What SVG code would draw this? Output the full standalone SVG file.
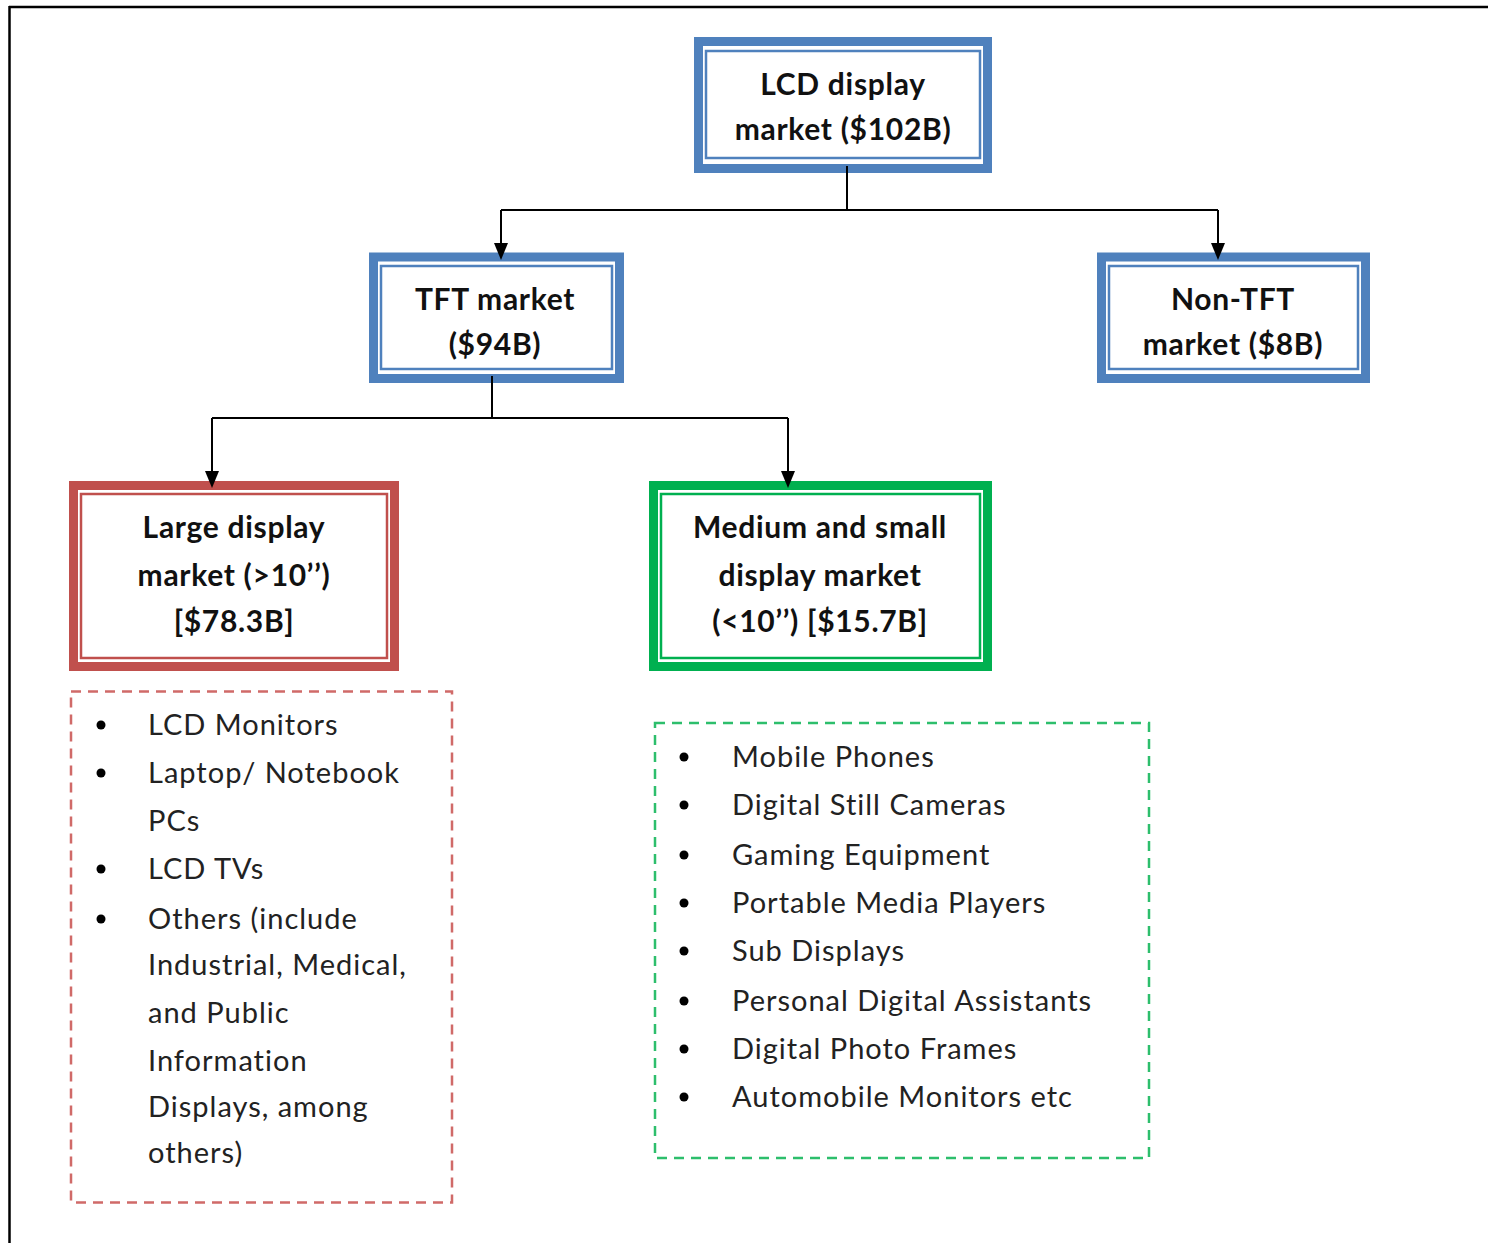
<svg xmlns="http://www.w3.org/2000/svg" width="1488" height="1243" viewBox="0 0 1488 1243">
<defs>
<style>
.title{font-family:Lato,"Open Sans","Liberation Sans",sans-serif;font-weight:700;font-size:30px;letter-spacing:0.7px;fill:#111;text-anchor:middle}
.item{font-family:Lato,"Open Sans","Liberation Sans",sans-serif;font-size:29px;letter-spacing:1px;fill:#222}
.blue{fill:#fff;stroke:#4F81BD;stroke-width:9}
.blueIn{fill:none;stroke:#4F81BD;stroke-width:2.5}
.red{fill:#fff;stroke:#C0504D;stroke-width:9}
.redIn{fill:none;stroke:#C0504D;stroke-width:2.5}
.green{fill:#fff;stroke:#00B050;stroke-width:9}
.greenIn{fill:none;stroke:#00B050;stroke-width:2.5}
.conn{fill:none;stroke:#000;stroke-width:2}
.head{fill:#000}
.bullet{fill:#000}
</style>
</defs>
<rect width="1488" height="1243" fill="#fff"/>
<g id="frame">
<line x1="9" y1="7" x2="1488" y2="7" stroke="#000" stroke-width="2.5"/>
<line x1="9.5" y1="6" x2="9.5" y2="1243" stroke="#000" stroke-width="2.5"/>
</g>
<g id="lcd">
<rect class="blue" x="698.5" y="41.5" width="289" height="127"/>
<rect class="blueIn" x="706" y="51" width="274" height="107"/>
<text class="title" x="843" y="95">LCD display</text>
<text class="title" x="843" y="140">market ($102B)</text>
</g>
<g id="tft">
<rect class="blue" x="373.5" y="257" width="246" height="121.5"/>
<rect class="blueIn" x="381" y="266" width="231" height="103"/>
<text class="title" x="495" y="310">TFT market</text>
<text class="title" x="495" y="355">($94B)</text>
</g>
<g id="nontft">
<rect class="blue" x="1101.5" y="257" width="264" height="121.5"/>
<rect class="blueIn" x="1109" y="266" width="249" height="103"/>
<text class="title" x="1233" y="310">Non-TFT</text>
<text class="title" x="1233" y="355">market ($8B)</text>
</g>
<g id="large">
<rect class="red" x="73.5" y="485.5" width="321" height="181"/>
<rect class="redIn" x="81" y="494" width="306" height="164"/>
<text class="title" x="234" y="538">Large display</text>
<text class="title" x="234" y="586">market (&gt;10’’)</text>
<text class="title" x="234" y="632">[$78.3B]</text>
</g>
<g id="medium">
<rect class="green" x="653.5" y="485.5" width="334" height="181"/>
<rect class="greenIn" x="661" y="494" width="319" height="164"/>
<text class="title" x="820" y="538">Medium and small</text>
<text class="title" x="820" y="586">display market</text>
<text class="title" x="820" y="632">(&lt;10’’) [$15.7B]</text>
</g>
<g id="connectors">
<path class="conn" d="M847,166 V210"/>
<path class="conn" d="M501,210 H1218"/>
<path class="conn" d="M501,210 V246"/>
<path class="conn" d="M1218,210 V246"/>
<polygon class="head" points="494,243 508,243 501,260"/>
<polygon class="head" points="1211,243 1225,243 1218,260"/>
<path class="conn" d="M492,376 V418"/>
<path class="conn" d="M212,418 H788"/>
<path class="conn" d="M212,418 V474"/>
<path class="conn" d="M788,418 V474"/>
<polygon class="head" points="205,471 219,471 212,488"/>
<polygon class="head" points="781,471 795,471 788,488"/>
</g>
<g id="large-list">
<rect x="71" y="691.5" width="381" height="511" fill="none" stroke="#D06A68" stroke-width="2.5" stroke-dasharray="10 7"/>
<circle class="bullet" cx="101" cy="725" r="4.5"/>
<circle class="bullet" cx="101" cy="773" r="4.5"/>
<circle class="bullet" cx="101" cy="869" r="4.5"/>
<circle class="bullet" cx="101" cy="919" r="4.5"/>
<text class="item" x="148" y="735">LCD Monitors</text>
<text class="item" x="148" y="783">Laptop/ Notebook</text>
<text class="item" x="148" y="831">PCs</text>
<text class="item" x="148" y="879">LCD TVs</text>
<text class="item" x="148" y="929">Others (include</text>
<text class="item" x="148" y="975">Industrial, Medical,</text>
<text class="item" x="148" y="1023">and Public</text>
<text class="item" x="148" y="1071">Information</text>
<text class="item" x="148" y="1117">Displays, among</text>
<text class="item" x="148" y="1163">others)</text>
</g>
<g id="medium-list">
<rect x="655" y="723" width="494" height="435" fill="none" stroke="#2DBE6C" stroke-width="2.5" stroke-dasharray="10 7"/>
<circle class="bullet" cx="684" cy="757" r="4.5"/>
<circle class="bullet" cx="684" cy="805" r="4.5"/>
<circle class="bullet" cx="684" cy="855" r="4.5"/>
<circle class="bullet" cx="684" cy="903" r="4.5"/>
<circle class="bullet" cx="684" cy="951" r="4.5"/>
<circle class="bullet" cx="684" cy="1001" r="4.5"/>
<circle class="bullet" cx="684" cy="1049" r="4.5"/>
<circle class="bullet" cx="684" cy="1097" r="4.5"/>
<text class="item" x="732" y="767">Mobile Phones</text>
<text class="item" x="732" y="815">Digital Still Cameras</text>
<text class="item" x="732" y="865">Gaming Equipment</text>
<text class="item" x="732" y="913">Portable Media Players</text>
<text class="item" x="732" y="961">Sub Displays</text>
<text class="item" x="732" y="1011">Personal Digital Assistants</text>
<text class="item" x="732" y="1059">Digital Photo Frames</text>
<text class="item" x="732" y="1107">Automobile Monitors etc</text>
</g>
</svg>
